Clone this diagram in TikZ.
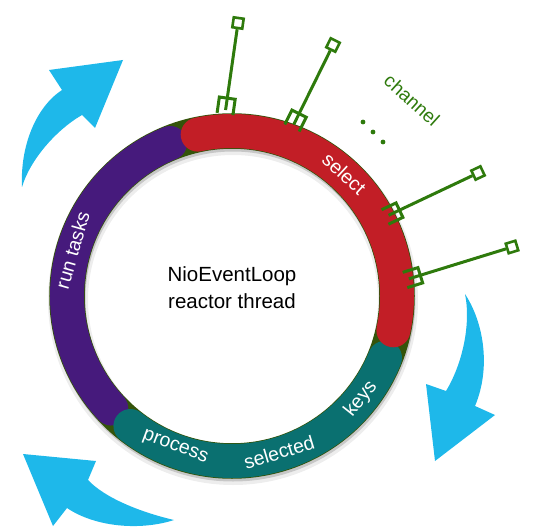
\documentclass[tikz,border=0pt]{standalone}
\usepackage{fontspec}
\setmainfont{Liberation Sans}
\usetikzlibrary{calc}
\definecolor{selred}{RGB}{194,30,38}
\definecolor{runpurple}{RGB}{70,26,124}
\definecolor{keyteal}{RGB}{10,112,112}
\definecolor{ringolive}{RGB}{52,84,10}
\definecolor{chgreen}{RGB}{46,122,12}
\definecolor{flowblue}{RGB}{30,184,234}

\begin{document}
\begin{tikzpicture}[x=1pt,y=1pt,
  seg/.style={line width=34pt,line cap=round},
  ringtext/.style={text=white,font=\fontsize{19.5}{19.5}\selectfont},
  chline/.style={draw=chgreen,line width=3pt},
  chsq/.style={draw=chgreen,line width=2.6pt,fill=white,minimum size=10pt,inner sep=0pt},
  flow/.style={fill=flowblue}]
\useasboundingbox (0,0) rectangle (548,528);
\coordinate (C) at (232,232);

% blue arrows
\fill[flow] (22,341) .. controls (20,382) and (36,421) .. (62,438) -- (49,458) -- (123,468)
  -- (95,400) -- (82,413) .. controls (56,398) and (30,368) .. cycle;
\fill[flow] (465,234) .. controls (484,205) and (491,160) .. (475,122) -- (495,113) -- (435,67)
  -- (426,144) -- (446,137) .. controls (463,165) and (471,205) .. cycle;
\fill[flow] (174,8) .. controls (140,-3) and (95,1) .. (67,20) -- (53,2) -- (23,74)
  -- (96,67) -- (88,48) .. controls (105,30) and (140,16) .. cycle;

% ring
\draw[line width=40pt,black,opacity=.07] ($(C)+(1,-4)$) circle[radius=165];
\draw[line width=35pt,black,opacity=.16] ($(C)+(1,-3)$) circle[radius=165];
\draw[line width=35.5pt,ringolive] (C) circle[radius=165];
\draw[seg,runpurple] ($(C)+(112:165)$) arc[start angle=112,end angle=223,radius=165];
\draw[seg,keyteal] ($(C)+(232:165)$) arc[start angle=232,end angle=338,radius=165];
\draw[seg,selred] ($(C)+(102:165)$) arc[start angle=102,end angle=-12,radius=165];

\node[ringtext,rotate=74] (run) at ($(C)+(164:166)$) {run tasks};
\node[ringtext,rotate=-42.6] (sel) at ($(C)+(47.4:166)$) {select};
\node[ringtext,rotate=-20.6] (proc) at ($(C)+(249.4:162)$) {process};
\node[ringtext,rotate=16.8] (selkd) at ($(C)+(286.8:163)$) {selected};
\node[ringtext,rotate=51.4] (keys) at ($(C)+(321.4:165)$) {keys};

\node[align=center,font=\fontsize{20.5}{27}\selectfont] (loop) at (232,240) {NioEventLoop\\reactor thread};

% channels
\foreach \n/\fx/\fy/\sx/\sy/\r in {a/225/414/238/505/81.8, b/292/400/333/483/63.7,
    c/385/311/478/355/25.3, d/405/248/512/281/17.1} {
  \coordinate (foot\n) at (\fx,\fy);
  \node[chsq,rotate=\r] (sq\n) at (\sx,\sy) {};
  \coordinate (cb\n) at ($(foot\n)!16pt!(sq\n)$);
  \draw[chline] (sq\n) -- ($(foot\n)!4pt!(sq\n)$);
  \draw[chline] ($(foot\n)!8pt!90:(sq\n)$) -- ($(cb\n)!8pt!90:(sq\n)$)
    -- ($(cb\n)!8pt!-90:(sq\n)$) -- ($(foot\n)!8pt!-90:(sq\n)$);
}
\node[text=chgreen,rotate=-42,font=\fontsize{19}{19}\selectfont] (chlabel) at (412,428) {channel};
\foreach \x/\y in {363/406, 373/396, 383/386}
  \fill[chgreen] (\x,\y) circle (2.4);
\end{tikzpicture}
\end{document}
